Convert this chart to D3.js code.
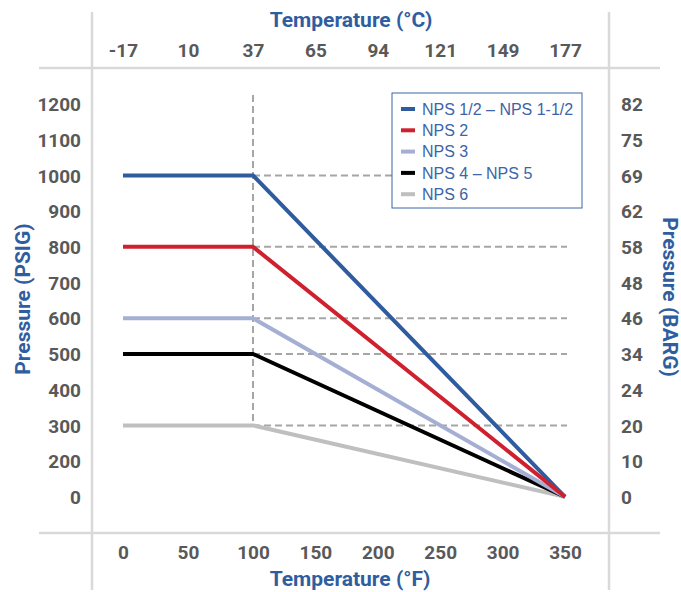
<!DOCTYPE html>
<html>
<head>
<meta charset="utf-8">
<script src="https://cdn.jsdelivr.net/npm/d3@7"></script>
<style>
  body { margin: 0; background: #fff; }
  .tick-label { font-family: Roboto, "Liberation Sans", sans-serif; font-weight: bold; font-size: 19px; fill: #595959; }
  .axis-title { font-family: Roboto, "Liberation Sans", sans-serif; font-weight: bold; font-size: 21px; fill: #2f5ea0; }
  .legend-text { font-family: "Liberation Sans", Arial, sans-serif; font-size: 16px; fill: #3c64a6; }
</style>
</head>
<body>
<div id="chart"></div>
<script>
// data
const tempF = [0, 100, 350];
const seriesNames = ["NPS 1/2 – NPS 1-1/2", "NPS 2", "NPS 3", "NPS 4 – NPS 5", "NPS 6"];
const seriesColors = ["#2e5c9e", "#d0202e", "#a5aed3", "#000000", "#bfbfbf"];
const seriesPsig = [
    [1000, 1000, 100],
    [800, 800, 100],
    [600, 600, 100],
    [500, 500, 100],
    [300, 300, 100]
];
const drawOrder = [4, 3, 2, 0, 1]; // red ends up on top

const fTicks = [0, 50, 100, 150, 200, 250, 300, 350];
const cLabels = ["-17", "10", "37", "65", "94", "121", "149", "177"];
const psigTicks = [100, 200, 300, 400, 500, 600, 700, 800, 900, 1000, 1100, 1200];
const psigLabels = ["0", "200", "300", "400", "500", "600", "700", "800", "900", "1000", "1100", "1200"];
const bargLabels = ["0", "10", "20", "24", "34", "46", "48", "58", "62", "69", "75", "82"];
const guideLevels = [1000, 800, 600, 500, 300];

const width = 681, height = 592;

const svg = d3.select("#chart").append("svg")
    .attr("width", width)
    .attr("height", height);

const x = d3.scaleLinear().domain([0, 100, 350]).range([123, 253, 565]);
const y = d3.scaleLinear().domain([0, 1200]).range([532.5, 104]);

// frame lines
const frame = svg.append("g")
    .attr("stroke", "#d9d9d9")
    .attr("stroke-width", 2.5);
frame.append("line").attr("x1", 92).attr("x2", 92).attr("y1", 12).attr("y2", 590);
frame.append("line").attr("x1", 609).attr("x2", 609).attr("y1", 12).attr("y2", 590);
frame.append("line").attr("x1", 39).attr("x2", 660).attr("y1", 68).attr("y2", 68);
frame.append("line").attr("x1", 39).attr("x2", 660).attr("y1", 533).attr("y2", 533);

// dashed guides
const guides = svg.append("g")
    .attr("stroke", "#a6a6a6")
    .attr("stroke-width", 2)
    .attr("stroke-dasharray", "7,4")
    .attr("fill", "none");
guides.append("line")
    .attr("x1", x(100)).attr("x2", x(100))
    .attr("y1", y(1225)).attr("y2", y(300));
guides.selectAll(".hguide")
    .data(guideLevels)
    .enter().append("line")
    .attr("class", "hguide")
    .attr("x1", x(100)).attr("x2", x(350) + 2)
    .attr("y1", d => y(d)).attr("y2", d => y(d));

// series lines
const line = d3.line()
    .x((d, i) => x(tempF[i]))
    .y(d => y(d));

svg.append("g").selectAll("path")
    .data(drawOrder)
    .enter().append("path")
    .attr("d", i => line(seriesPsig[i]))
    .attr("fill", "none")
    .attr("stroke", i => seriesColors[i])
    .attr("stroke-width", 4)
    .attr("stroke-linejoin", "miter");

// axes
const bottomAxis = d3.axisBottom(x).tickValues(fTicks).tickSize(0).tickPadding(0);
const gb = svg.append("g").attr("transform", "translate(0,545)").call(bottomAxis);
const topAxis = d3.axisTop(x).tickValues(fTicks).tickSize(0).tickPadding(0)
    .tickFormat((d, i) => cLabels[i]);
const gt = svg.append("g").attr("transform", "translate(0,57)").call(topAxis);
const leftAxis = d3.axisLeft(y).tickValues(psigTicks).tickSize(0).tickPadding(0)
    .tickFormat((d, i) => psigLabels[i]);
const gl = svg.append("g").attr("transform", "translate(81,0)").call(leftAxis);
const rightAxis = d3.axisRight(y).tickValues(psigTicks).tickSize(0).tickPadding(0)
    .tickFormat((d, i) => bargLabels[i]);
const gr = svg.append("g").attr("transform", "translate(621,0)").call(rightAxis);

[gb, gt, gl, gr].forEach(g => {
    g.select(".domain").remove();
    g.selectAll("text").attr("class", "tick-label").attr("fill", null);
    g.attr("font-family", null).attr("font-size", null);
});
gb.selectAll("text").attr("dy", "0.71em");
gt.selectAll("text").attr("dy", "0");
gl.selectAll("text").attr("dy", "0.35em");
gr.selectAll("text").attr("dy", "0.35em");

// axis titles
svg.append("text").attr("class", "axis-title")
    .attr("x", 351).attr("y", 27).attr("text-anchor", "middle")
    .text("Temperature (°C)");
svg.append("text").attr("class", "axis-title")
    .attr("x", 350).attr("y", 586).attr("text-anchor", "middle")
    .text("Temperature (°F)");
svg.append("text").attr("class", "axis-title")
    .attr("transform", "translate(30,299) rotate(-90)")
    .attr("text-anchor", "middle")
    .text("Pressure (PSIG)");
svg.append("text").attr("class", "axis-title")
    .attr("transform", "translate(663,297) rotate(90)")
    .attr("text-anchor", "middle")
    .text("Pressure (BARG)");

// legend
const legend = svg.append("g").attr("transform", "translate(392,93)");
legend.append("rect")
    .attr("width", 190).attr("height", 115)
    .attr("fill", "#fff")
    .attr("stroke", "#3c64a6")
    .attr("stroke-width", 1);
const items = legend.selectAll(".item")
    .data(seriesNames)
    .enter().append("g")
    .attr("class", "item")
    .attr("transform", (d, i) => `translate(0,${16 + i * 21.3})`);
items.append("line")
    .attr("x1", 9).attr("x2", 23)
    .attr("stroke", (d, i) => seriesColors[i])
    .attr("stroke-width", 4);
items.append("text")
    .attr("class", "legend-text")
    .attr("x", 30)
    .attr("dy", "0.35em")
    .text(d => d);
</script>
</body>
</html>
